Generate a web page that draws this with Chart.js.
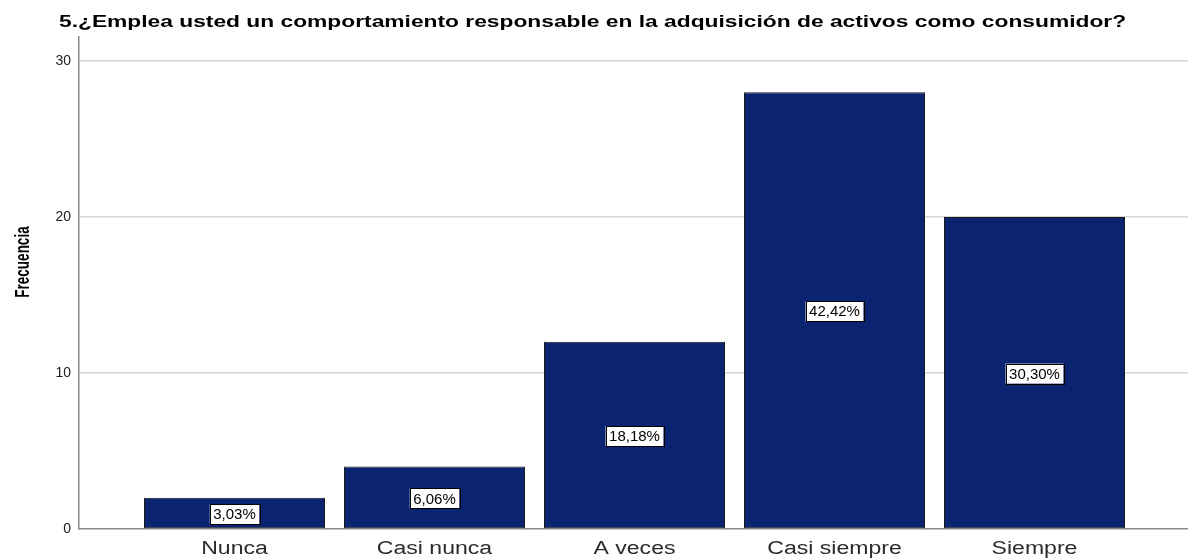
<!DOCTYPE html>
<html lang="es">
<head>
<meta charset="utf-8">
<title>Frecuencia</title>
<script src="https://cdn.jsdelivr.net/npm/chart.js@4"></script>
<style>
  html, body { margin: 0; padding: 0; background: #fff; }
  #wrap { width: 1188px; height: 560px; position: relative; }
</style>
</head>
<body>
<div id="wrap"><canvas id="freqChart"></canvas></div>
<script>
const categories = ['Nunca', 'Casi nunca', 'A veces', 'Casi siempre', 'Siempre'];
const frequencies = [2, 4, 12, 28, 20];
const percentLabels = ['3,03%', '6,06%', '18,18%', '42,42%', '30,30%'];
const yTicks = [0, 10, 20, 30];
const chartTitle = '5.¿Emplea usted un comportamiento responsable en la adquisición de activos como consumidor?';
const yTitle = 'Frecuencia';

const FONT = "'Liberation Sans', Arial, sans-serif";

// draws a string squeezed/stretched horizontally around its anchor
function wideText(ctx, text, x, y, sx) {
    ctx.save();
    ctx.translate(x, y);
    ctx.scale(sx, 1);
    ctx.fillText(text, 0, 0);
    ctx.restore();
}

// Titles, category names and the boxed percentages
const textPlugin = {
    id: 'spssText',
    afterDraw(chart) {
        const ctx = chart.ctx;
        const xScale = chart.scales.x;
        const area = chart.chartArea;

        // chart title
        ctx.save();
        ctx.fillStyle = '#000';
        ctx.font = 'bold 17px ' + FONT;
        ctx.textAlign = 'left';
        ctx.textBaseline = 'alphabetic';
        wideText(ctx, chartTitle, 59, 26.5, 1.34);
        ctx.restore();

        // y axis title, rotated
        ctx.save();
        ctx.fillStyle = '#000';
        ctx.font = 'bold 13.5px ' + FONT;
        ctx.textAlign = 'center';
        ctx.textBaseline = 'alphabetic';
        ctx.translate(29, 262);
        ctx.rotate(-Math.PI / 2);
        ctx.scale(1, 1.43);
        ctx.fillText(yTitle, 0, 0);
        ctx.restore();

        // category names under the bars
        ctx.save();
        ctx.fillStyle = '#2b2b2b';
        ctx.font = '18px ' + FONT;
        ctx.textAlign = 'center';
        ctx.textBaseline = 'alphabetic';
        categories.forEach((name, i) => {
            wideText(ctx, name, xScale.getPixelForValue(i), area.bottom + 25, 1.28);
        });
        ctx.restore();

        // percentage boxes in the middle of each bar
        ctx.save();
        ctx.font = '15px ' + FONT;
        ctx.textAlign = 'center';
        ctx.textBaseline = 'middle';
        const meta = chart.getDatasetMeta(0);
        meta.data.forEach((bar, i) => {
            const label = percentLabels[i];
            const cx = bar.x;
            const cy = (bar.y + bar.base) / 2 + 1;
            const w = ctx.measureText(label).width + 7;
            const h = 20;
            ctx.fillStyle = '#fff';
            ctx.fillRect(cx - w / 2, cy - h / 2, w, h);
            ctx.strokeStyle = '#000';
            ctx.lineWidth = 1;
            ctx.strokeRect(Math.round(cx - w / 2) + 0.5, Math.round(cy - h / 2) + 0.5, Math.round(w), h);
            ctx.fillStyle = '#000';
            ctx.fillText(label, cx, cy + 1);
        });
        ctx.restore();
    }
};

new Chart(document.getElementById('freqChart'), {
    type: 'bar',
    data: {
        datasets: [{
            data: frequencies.map((v, i) => ({ x: i, y: v })),
            backgroundColor: '#0b2471',
            borderColor: '#1a1a1a',
            borderWidth: 1,
            borderSkipped: false,
            categoryPercentage: 1,
            barPercentage: 0.905
        }]
    },
    options: {
        responsive: true,
        maintainAspectRatio: false,
        animation: false,
        layout: { padding: { top: 37, right: 0, left: 0, bottom: 0 } },
        plugins: {
            legend: { display: false },
            tooltip: { enabled: false }
        },
        scales: {
            x: {
                type: 'linear',
                offset: false,
                min: -0.7775,
                max: 4.7675,
                afterBuildTicks(scale) {
                    scale.ticks = categories.map((c, i) => ({ value: i }));
                },
                afterFit(scale) { scale.height = 31; },
                ticks: { display: false },
                grid: { display: false, drawTicks: false, offset: false },
                border: { display: true, color: '#8a8a8a', width: 1.5 }
            },
            y: {
                min: 0,
                max: 31.54,
                afterBuildTicks(scale) {
                    scale.ticks = yTicks.map(v => ({ value: v }));
                },
                afterFit(scale) { scale.width = 79; },
                ticks: {
                    padding: 8,
                    color: '#222',
                    font: { family: FONT, size: 14 }
                },
                grid: {
                    drawTicks: false,
                    lineWidth: 1.5,
                    color: ctx => ctx.tick && ctx.tick.value === 0 ? 'rgba(0,0,0,0)' : '#d6d6d6'
                },
                border: { display: true, color: '#8a8a8a', width: 1.5 }
            }
        }
    },
    plugins: [textPlugin]
});
</script>
</body>
</html>
